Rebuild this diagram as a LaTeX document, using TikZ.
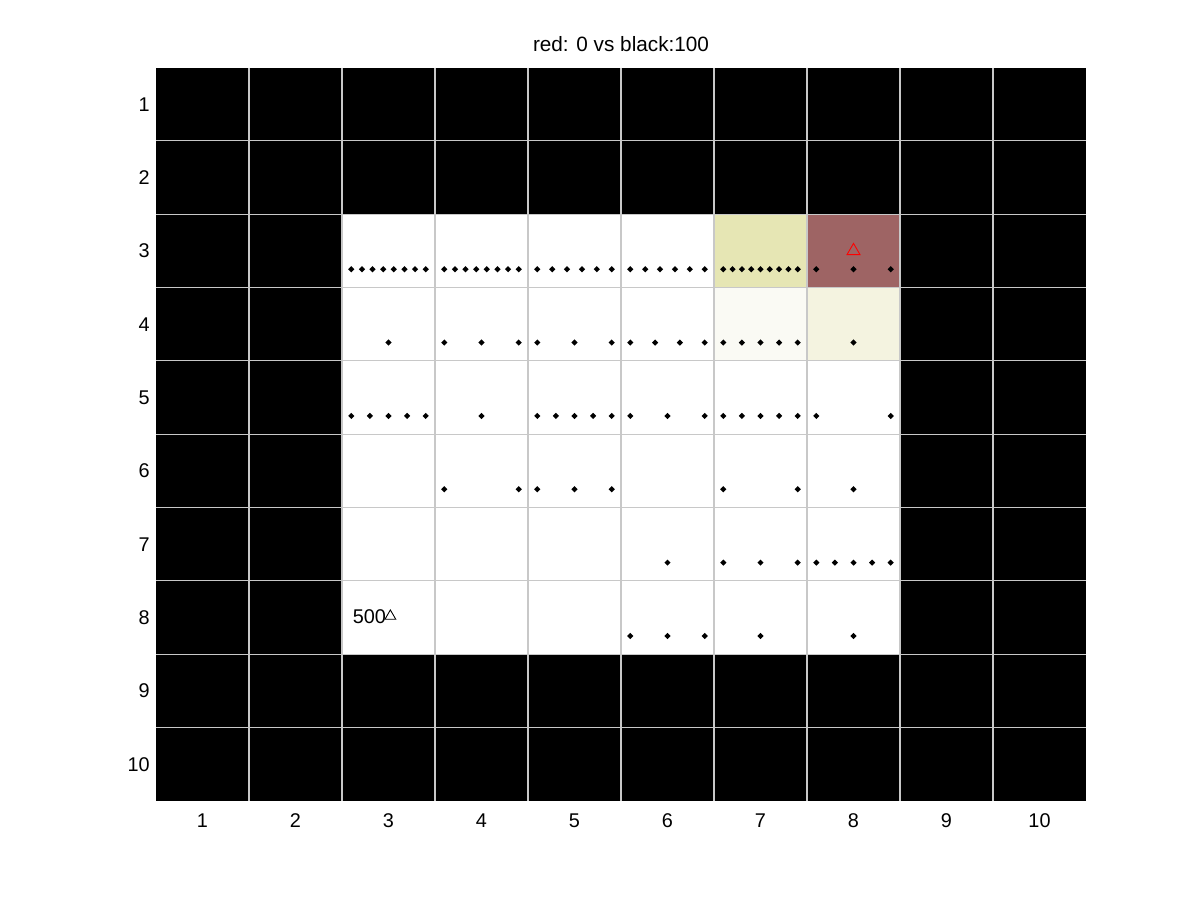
\documentclass[tikz,border=0pt]{standalone}
\usepackage{fontspec}
\setmainfont{Liberation Sans}
\usetikzlibrary{shapes.geometric}
\definecolor{gridgray}{RGB}{200,200,200}
\definecolor{cellyel}{RGB}{230,230,180}
\definecolor{cellred}{RGB}{158,100,100}
\definecolor{cellpale}{RGB}{250,250,244}
\definecolor{cellcream}{RGB}{244,243,224}
\tikzset{
  dot/.style={diamond, fill=black, inner sep=0pt, minimum size=0.13cm},
  gridline/.style={draw=gridgray, line width=0.6pt},
  ticklab/.style={font=\fontsize{11.3}{13}\selectfont, inner sep=0pt},
  tri/.style={regular polygon, regular polygon sides=3, draw, inner sep=0pt, line width=0.5pt},
}
\begin{document}
\begin{tikzpicture}
\useasboundingbox[fill=white] (0,0) rectangle (24cm,-18cm);
\begin{scope}[shift={(2.19cm,-0.6165cm)}, x={(1.86cm,0cm)}, y={(0cm,-1.467cm)}]
  % cells
  \fill[black] (0.5,0.5) rectangle (10.5,10.5);
  \fill[white] (2.5,2.5) rectangle (8.5,8.5);
  \fill[cellyel] (6.5,2.5) rectangle (7.5,3.5);
  \fill[cellred] (7.5,2.5) rectangle (8.5,3.5);
  \fill[cellpale] (6.5,3.5) rectangle (7.5,4.5);
  \fill[cellcream] (7.5,3.5) rectangle (8.5,4.5);
  % grid (inner lines only)
  \foreach \i in {1,...,9}{
    \draw[gridline] (\i+0.5,0.5) -- (\i+0.5,10.5);
    \draw[gridline] (0.5,\i+0.5) -- (10.5,\i+0.5);
  }
  % dots
  \foreach \r/\c/\n in {3/3/8,3/4/8,3/5/6,3/6/6,3/7/9,3/8/3,
                        4/3/1,4/4/3,4/5/3,4/6/4,4/7/5,4/8/1,
                        5/3/5,5/4/1,5/5/5,5/6/3,5/7/5,5/8/2,
                        6/4/2,6/5/3,6/7/2,6/8/1,
                        7/6/1,7/7/3,7/8/5,
                        8/6/3,8/7/1,8/8/1}{
    \ifnum\n=1
      \node[dot] (d-\r-\c-0) at (\c,\r+0.25) {};
    \else
      \pgfmathtruncatemacro\m{\n-1}
      \foreach \k in {0,...,\m}{
        \node[dot] (d-\r-\c-\k) at ({\c-0.4+0.8*\k/\m},\r+0.25) {};
      }
    \fi
  }
  % markers
  \node[tri, draw=red, minimum size=0.3cm] (redtri) at (8,3) {};
  \node[tri, draw=black, minimum size=0.25cm] (blacktri) at (3.02,7.98) {};
  \node[ticklab, anchor=east] (lab500) at (blacktri.west) {500};
  % tick labels
  \foreach \i in {1,...,10}{
    \node[ticklab, anchor=east] (yl\i) at (0.435,\i) {\i};
    \node[ticklab, anchor=base] (xl\i) at (\i,10.855) {\i};
  }
  % title
  \node[ticklab, anchor=base, font=\fontsize{11.8}{14}\selectfont] (title) at (5.5,0.28) {red: 0 vs black:100};
\end{scope}
\end{tikzpicture}
\end{document}
